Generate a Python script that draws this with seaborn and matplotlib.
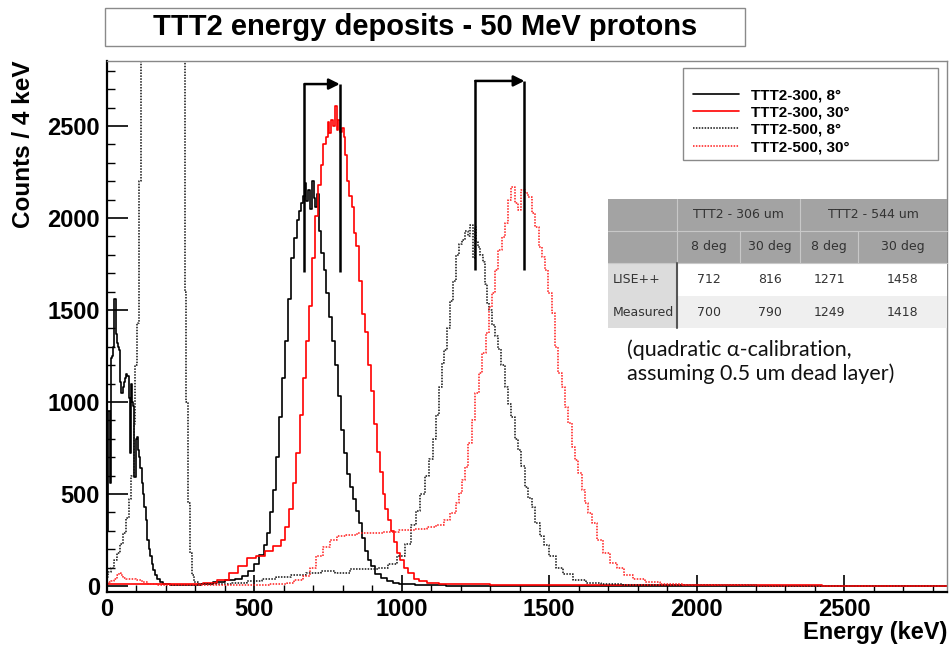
import matplotlib
matplotlib.use("Agg")
import matplotlib.pyplot as plt
from matplotlib.patches import Rectangle
from matplotlib.ticker import MultipleLocator
import seaborn as sns
import pandas as pd

# ---------------- data ----------------
e_300_8 = [0, 4, 8, 12, 16, 20, 24, 28, 32, 36, 40, 44, 48, 52, 56, 60, 64, 68, 72, 76, 80, 84, 88, 92, 96,
           100, 104, 108, 112, 116, 120, 125, 130, 135, 140, 145, 150, 155, 160, 165, 175, 185, 200, 230, 260,
           300, 340, 380, 420, 450, 470, 490, 510, 525, 540, 550, 560, 570, 580, 590, 600, 610, 620, 630, 640,
           650, 656, 662, 668, 674, 680, 686, 692, 698, 704, 710, 716, 722, 730, 740, 750, 760, 770, 780, 790,
           800, 810, 820, 830, 840, 850, 860, 870, 880, 890, 900, 920, 940, 960, 980, 1000, 1030, 1060, 1100,
           1200, 1400, 1800, 2200, 2850]
c_300_8 = [720, 300, 950, 560, 1240, 1250, 1300, 1560, 1370, 1320, 1300, 1280, 1110, 1050, 1080, 1110, 1130, 1150,
           1140, 1020, 720, 1100, 1000, 980, 590, 800, 810, 740, 700, 640, 560, 500, 430, 360, 250, 200, 160, 120,
           85, 60, 35, 20, 10, 6, 4, 5, 10, 20, 30, 40, 55, 80, 120, 170, 220, 290, 400, 520, 700, 920, 1130,
           1330, 1560, 1780, 1890, 1990, 2040, 2080, 2120, 2190, 2090, 2150, 2050, 2200, 2110, 2060, 2130, 1930,
           1810, 1720, 1590, 1460, 1330, 1200, 1030, 850, 720, 610, 540, 470, 410, 340, 260, 190, 140, 110, 65,
           45, 28, 18, 12, 8, 5, 3, 2, 1, 1, 0, 0]

e_300_30 = [0, 100, 200, 300, 350, 400, 430, 460, 490, 520, 550, 580, 600, 612, 624, 636, 648, 660, 670, 680, 690,
            700, 710, 720, 730, 738, 746, 752, 758, 764, 770, 776, 782, 788, 794, 800, 806, 812, 818, 826, 834,
            842, 850, 860, 870, 880, 890, 900, 910, 920, 930, 940, 950, 960, 970, 980, 990, 1000, 1015, 1030,
            1050, 1070, 1100, 1150, 1200, 1400, 2000, 2850]
c_300_30 = [10, 10, 8, 10, 15, 30, 70, 110, 150, 160, 190, 215, 250, 320, 420, 560, 720, 930, 1130, 1330, 1520,
            1780, 2010, 2180, 2290, 2400, 2440, 2520, 2460, 2530, 2500, 2610, 2480, 2530, 2470, 2490, 2440, 2340,
            2200, 2120, 2060, 1920, 1850, 1660, 1480, 1380, 1200, 1060, 880, 730, 620, 500, 420, 360, 300, 240,
            180, 140, 100, 70, 40, 25, 15, 10, 8, 5, 3, 0]

e_500_8 = [0, 10, 20, 30, 40, 50, 60, 70, 80, 88, 94, 100, 106, 112, 118, 124, 160, 200, 240, 262, 266, 272, 278,
           284, 292, 300, 320, 360, 400, 450, 500, 550, 600, 650, 700, 750, 800, 850, 900, 940, 970, 1000, 1020,
           1040, 1055, 1070, 1085, 1100, 1110, 1120, 1130, 1140, 1150, 1160, 1170, 1180, 1190, 1200, 1210, 1220,
           1228, 1236, 1244, 1250, 1256, 1262, 1270, 1278, 1286, 1294, 1300, 1310, 1320, 1330, 1345, 1355, 1365,
           1378, 1390, 1400, 1412, 1424, 1435, 1446, 1460, 1475, 1490, 1510, 1535, 1560, 1600, 1650, 1700, 1800,
           2000, 2400, 2850]
c_500_8 = [50, 75, 100, 140, 180, 230, 290, 370, 470, 600, 880, 1200, 1430, 2200, 3300, 4000, 4000, 4000, 4000,
           4000, 1600, 1000, 450, 180, 60, 20, 10, 8, 10, 15, 25, 35, 50, 60, 70, 80, 70, 90, 90, 100, 120, 160,
           230, 330, 410, 500, 600, 690, 800, 930, 1080, 1210, 1280, 1400, 1550, 1660, 1800, 1860, 1880, 1930,
           1900, 1960, 1780, 1950, 1870, 1840, 1800, 1760, 1640, 1540, 1500, 1420, 1360, 1290, 1200, 1080, 990,
           920, 800, 740, 650, 540, 480, 430, 340, 270, 220, 160, 100, 65, 32, 17, 10, 5, 3, 1, 0]

e_500_30 = [0, 10, 20, 30, 38, 45, 52, 60, 70, 90, 110, 130, 150, 200, 300, 400, 500, 600, 620, 650, 680, 700, 720,
            745, 770, 790, 830, 870, 910, 960, 1020, 1070, 1100, 1130, 1155, 1175, 1190, 1200, 1210, 1220, 1232,
            1244, 1256, 1266, 1278, 1290, 1300, 1310, 1322, 1334, 1345, 1356, 1366, 1378, 1390, 1400, 1412, 1424,
            1435, 1446, 1458, 1470, 1480, 1492, 1503, 1514, 1525, 1537, 1548, 1560, 1570, 1582, 1593, 1605, 1616,
            1627, 1638, 1650, 1672, 1695, 1717, 1740, 1770, 1800, 1850, 1900, 2000, 2400, 2850]
c_500_30 = [15, 20, 25, 40, 60, 68, 58, 45, 40, 38, 33, 22, 12, 5, 4, 5, 6, 10, 14, 30, 55, 100, 160, 210, 250,
            270, 278, 285, 285, 292, 303, 312, 320, 331, 358, 394, 450, 503, 576, 648, 775, 902, 1047, 1155, 1264,
            1373, 1518, 1590, 1717, 1826, 1898, 1971, 2098, 2170, 2079, 2043, 2152, 2134, 2116, 2025, 1953, 1844,
            1790, 1717, 1590, 1481, 1300, 1155, 1083, 974, 884, 757, 684, 612, 521, 449, 394, 340, 249, 177, 123,
            95, 60, 40, 20, 10, 5, 2, 0]

series_labels = ["TTT2-300, 8°", "TTT2-300, 30°", "TTT2-500, 8°", "TTT2-500, 30°"]

# energy shift arrows (keV) and their vertical extent (counts)
arrow_from = [670, 1249]
arrow_to = [790, 1416]
arrow_top = [2728, 2745]
arrow_bottom = [1705, 1720]

# table
table_groups = ["TTT2 - 306 um", "TTT2 - 544 um"]
table_angles = ["8 deg", "30 deg", "8 deg", "30 deg"]
table_rows = ["LISE++", "Measured"]
lise_values = [712, 816, 1271, 1458]
measured_values = [700, 790, 1249, 1418]

title = "TTT2 energy deposits - 50 MeV protons"
note = "(quadratic \u03b1-calibration,\nassuming 0.5 um dead layer)"

# ---------------- figure ----------------
W, H = 949, 645
sns.set_style("ticks")
plt.rcParams["font.family"] = ["Liberation Sans", "DejaVu Sans"]
plt.rcParams["font.weight"] = "bold"
for k in ["text.color", "axes.labelcolor", "xtick.color", "ytick.color", "axes.edgecolor"]:
    plt.rcParams[k] = "black"

fig = plt.figure(figsize=(W / 100, H / 100), dpi=100)
fig.patch.set_facecolor("white")


def fx(x):
    return x / W


def fy(y):
    return 1 - y / H


ax_l, ax_r, ax_t, ax_b = 106.7, 947.5, 60.7, 592.0
ax = fig.add_axes([fx(ax_l), fy(ax_b), (ax_r - ax_l) / W, (ax_b - ax_t) / H])
ax.set_facecolor("white")

styles = [
    (e_300_8, c_300_8, "#000000", "-", 1.2),
    (e_300_30, c_300_30, "#ff0000", "-", 1.2),
    (e_500_8, c_500_8, "#111111", (0, (1, 0.9)), 1.1),
    (e_500_30, c_500_30, "#ff1a1a", (0, (1, 0.9)), 1.1),
]
for (e, c, col, ls, lw), lab in zip(styles, series_labels):
    df = pd.DataFrame({"energy": e, "counts": c})
    sns.lineplot(data=df, x="energy", y="counts", ax=ax, color=col, linestyle=ls, lw=lw,
                 drawstyle="steps-mid", estimator=None, sort=False, label=lab)

# arrows
for x0, x1, yt, yb in zip(arrow_from, arrow_to, arrow_top, arrow_bottom):
    ax.plot([x0, x0], [yb, yt], color="black", lw=1.8, solid_capstyle="butt")
    ax.plot([x1, x1], [yb, yt], color="black", lw=1.8, solid_capstyle="butt")
    ax.annotate("", xy=(x1, yt), xytext=(x0, yt),
                arrowprops=dict(arrowstyle="-|>", color="black", lw=1.8,
                                mutation_scale=16, shrinkA=0, shrinkB=0))

ax.set_xlim(0, 2850)
ax.set_ylim(-33, 2855)
ax.xaxis.set_major_locator(MultipleLocator(500))
ax.xaxis.set_minor_locator(MultipleLocator(100))
ax.yaxis.set_major_locator(MultipleLocator(500))
ax.yaxis.set_minor_locator(MultipleLocator(100))
ax.tick_params(axis="both", which="both", direction="in", colors="black", labelsize=17,
               bottom=True, left=True, top=False, right=False)
ax.tick_params(axis="y", which="major", length=15, width=1.2, pad=5)
ax.tick_params(axis="y", which="minor", length=6, width=1.0)
ax.tick_params(axis="x", which="major", length=12, width=1.2, pad=4)
ax.tick_params(axis="x", which="minor", length=5, width=1.0)
for sp in ["left", "bottom"]:
    ax.spines[sp].set_color("black")
    ax.spines[sp].set_linewidth(1.6)
for sp in ["top", "right"]:
    ax.spines[sp].set_color("#888888")
    ax.spines[sp].set_linewidth(1.0)

ax.set_xlabel("Energy (keV)", fontsize=17, fontweight="bold", loc="right", color="black")
ax.xaxis.set_label_coords(1.0, (ax_b - 632) / (ax_b - ax_t))
ax.xaxis.label.set_va("center")
ax.set_ylabel("Counts / 4 keV", fontsize=17.5, fontweight="bold", loc="top", color="black")
ax.yaxis.set_label_coords((35 - ax_l) / (ax_r - ax_l), 1.0)

# legend
leg = ax.legend(loc="upper left", bbox_to_anchor=(fx(693), fy(88)), bbox_transform=fig.transFigure,
                frameon=False, fontsize=11, handlelength=3.0, handletextpad=0.8, labelspacing=0.22,
                borderpad=0, borderaxespad=0)
for t in leg.get_texts():
    t.set_fontweight("bold")
    t.set_color("black")
fig.patches.append(Rectangle((fx(683), fy(160)), fx(938) - fx(683), fy(68) - fy(160),
                             transform=fig.transFigure, fill=False, edgecolor="#8a8a8a", lw=1.0, zorder=5))

# title box
fig.patches.append(Rectangle((fx(105), fy(46)), fx(745) - fx(105), fy(8) - fy(46),
                             transform=fig.transFigure, facecolor="white", edgecolor="#8a8a8a", lw=1.0))
fig.text(fx(425), fy(27), title, ha="center", va="center", fontsize=21, fontweight="bold", color="black",
         family=["Liberation Sans Narrow", "Liberation Sans", "DejaVu Sans"])

# table
col_edges = [608, 677, 740, 800, 858, 947]
row_edges = [199, 231, 263, 296, 328]
gray_head = "#a3a3a3"
for r in range(4):
    for ci in range(5):
        if r < 2:
            fc = gray_head
        elif ci == 0:
            fc = "#dcdcdc"
        elif r == 2:
            fc = "#ffffff"
        else:
            fc = "#efefef"
        x0, x1 = col_edges[ci], col_edges[ci + 1]
        y0, y1 = row_edges[r], row_edges[r + 1]
        fig.patches.append(Rectangle((fx(x0), fy(y1)), fx(x1) - fx(x0), fy(y0) - fy(y1),
                                     transform=fig.transFigure, facecolor=fc, edgecolor="none", zorder=6))
# thin separators in header
for yy in [231, 263]:
    fig.add_artist(plt.Line2D([fx(608), fx(947)], [fy(yy), fy(yy)], color="#c8c8c8", lw=0.8, zorder=7))
for xx in [677, 800]:
    fig.add_artist(plt.Line2D([fx(xx), fx(xx)], [fy(199), fy(263)], color="#c8c8c8", lw=0.8, zorder=7))
for xx in [740, 858]:
    fig.add_artist(plt.Line2D([fx(xx), fx(xx)], [fy(231), fy(263)], color="#c8c8c8", lw=0.8, zorder=7))
fig.add_artist(plt.Line2D([fx(677), fx(677)], [fy(263), fy(328)], color="#555555", lw=1.5, zorder=7))

tkw = dict(fontsize=9, fontweight="normal", color="#333333", family=["DejaVu Sans"], zorder=8)
for gi, g in enumerate(table_groups):
    xc = (col_edges[1 + 2 * gi] + col_edges[3 + 2 * gi]) / 2
    fig.text(fx(xc), fy(214), g, ha="center", va="center", **tkw)
for ci, a in enumerate(table_angles):
    xc = (col_edges[ci + 1] + col_edges[ci + 2]) / 2
    fig.text(fx(xc), fy(247), a, ha="center", va="center", **tkw)
for ri, (lab, vals) in enumerate(zip(table_rows, [lise_values, measured_values])):
    yc = (row_edges[ri + 2] + row_edges[ri + 3]) / 2
    fig.text(fx(613), fy(yc), lab, ha="left", va="center", **tkw)
    for ci, v in enumerate(vals):
        xc = (col_edges[ci + 1] + col_edges[ci + 2]) / 2
        fig.text(fx(xc), fy(yc), str(v), ha="center", va="center", **tkw)

fig.text(fx(627), fy(362), note, ha="left", va="center", fontsize=15.5, fontweight="normal",
         color="#111111", family=["Lato", "DejaVu Sans"], linespacing=1.2, zorder=8)

fig.savefig("out.png", dpi=100)
